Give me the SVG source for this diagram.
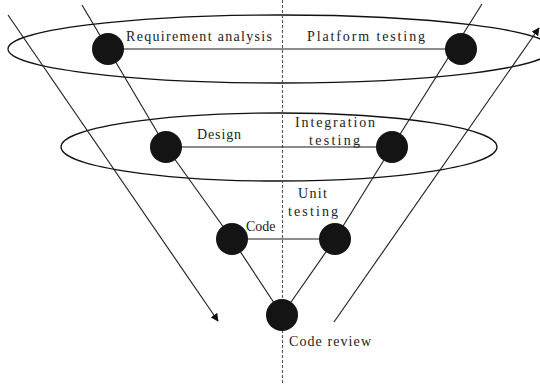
<svg xmlns="http://www.w3.org/2000/svg" width="540" height="384" viewBox="0 0 540 384">
  <style>
    .ring { fill: none; stroke: #111; stroke-width: 1.3; }
    .edge { fill: none; stroke: #1a1a1a; stroke-width: 1.1; }
    .axis { fill: none; stroke: #555; stroke-width: 1.1; stroke-dasharray: 3 2; }
    .node { fill: #141414; }
    .label { font-family: "Liberation Serif", "DejaVu Serif", serif; font-size: 14px; fill: #222; }
  </style>
  <defs>
    <marker id="arrow" viewBox="0 0 10 10" refX="9" refY="5" markerWidth="8" markerHeight="8" markerUnits="userSpaceOnUse" orient="auto">
      <path d="M0,0 L10,5 L0,10 z" fill="#111"/>
    </marker>
  </defs>

  <rect width="540" height="384" fill="#fff"/>

  <!-- level rings -->
  <ellipse class="ring" cx="280" cy="49" rx="272" ry="34"/>
  <ellipse class="ring" cx="279" cy="147" rx="218" ry="34"/>

  <!-- centre axis -->
  <line class="axis" x1="282.5" y1="0" x2="282.5" y2="384"/>

  <g id="connectors">
    <!-- outer flow arrows -->
    <line class="edge" x1="8" y1="15" x2="218" y2="321" marker-end="url(#arrow)"/>
    <line class="edge" x1="334" y1="322" x2="539" y2="28" marker-end="url(#arrow)"/>
    <!-- left side of the V -->
    <line class="edge" x1="82" y1="5" x2="166" y2="147"/>
    <line class="edge" x1="166" y1="147" x2="232" y2="239"/>
    <line class="edge" x1="232" y1="239" x2="282" y2="315"/>
    <!-- right side of the V -->
    <line class="edge" x1="482" y1="4" x2="392" y2="147"/>
    <line class="edge" x1="392" y1="147" x2="335" y2="239"/>
    <line class="edge" x1="335" y1="239" x2="282" y2="315"/>
    <!-- level links -->
    <line class="edge" x1="108" y1="49" x2="461" y2="49"/>
    <line class="edge" x1="166" y1="147" x2="392" y2="147"/>
    <line class="edge" x1="232" y1="239" x2="335" y2="239"/>
  </g>

  <g id="requirement-analysis">
    <circle class="node" cx="108" cy="49" r="16"/>
    <text class="label" x="126" y="41" textLength="146" lengthAdjust="spacing">Requirement analysis</text>
  </g>
  <g id="platform-testing">
    <circle class="node" cx="461" cy="49" r="16"/>
    <text class="label" x="307" y="41" textLength="118" lengthAdjust="spacing">Platform testing</text>
  </g>
  <g id="design">
    <circle class="node" cx="166" cy="147" r="16"/>
    <text class="label" x="197" y="139" textLength="44" lengthAdjust="spacing">Design</text>
  </g>
  <g id="integration-testing">
    <circle class="node" cx="392" cy="147" r="16"/>
    <text class="label" x="295" y="127" textLength="80" lengthAdjust="spacing">Integration</text>
    <text class="label" x="309" y="145" textLength="51" lengthAdjust="spacing">testing</text>
  </g>
  <g id="code">
    <circle class="node" cx="232" cy="239" r="16"/>
    <text class="label" x="246" y="231">Code</text>
  </g>
  <g id="unit-testing">
    <circle class="node" cx="335" cy="239" r="16"/>
    <text class="label" x="298" y="198" textLength="29" lengthAdjust="spacing">Unit</text>
    <text class="label" x="288" y="216" textLength="50" lengthAdjust="spacing">testing</text>
  </g>
  <g id="code-review">
    <circle class="node" cx="282" cy="315" r="16"/>
    <text class="label" x="289" y="346" textLength="82" lengthAdjust="spacing">Code review</text>
  </g>
</svg>
